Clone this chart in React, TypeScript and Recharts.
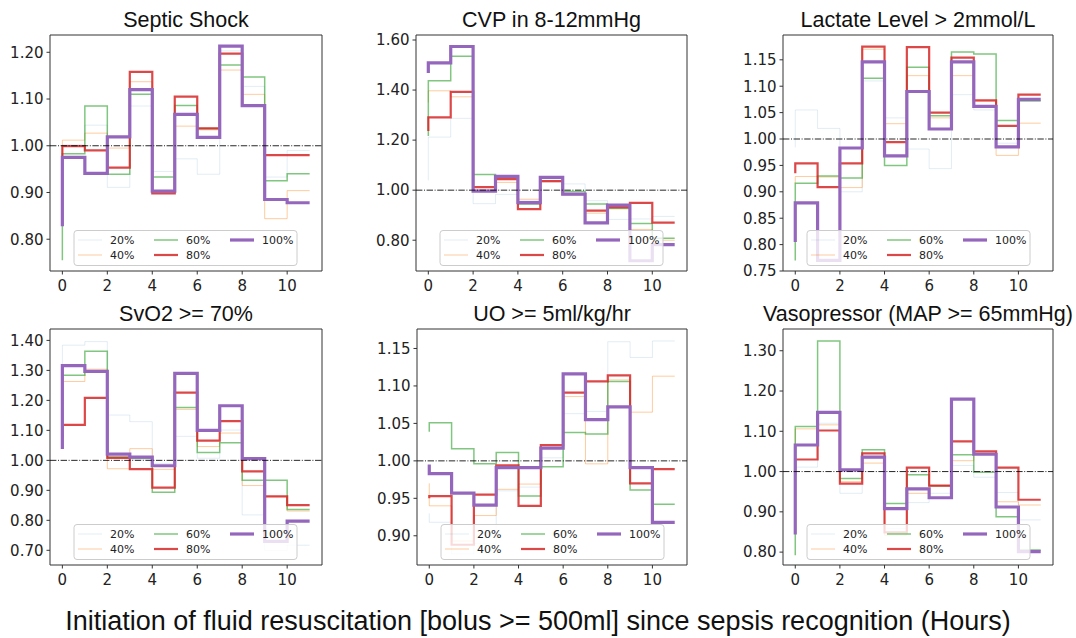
import React from "react";
import {
  LineChart,
  Line,
  XAxis,
  YAxis,
  ReferenceLine,
  ReferenceArea,
} from "recharts";

// hours since sepsis recognition (first point is the stub drawn at x=0)
const HOURS = [0, 1, 2, 3, 4, 5, 6, 7, 8, 9, 10, 11];
const X_TICKS = [0, 2, 4, 6, 8, 10];
const X_DOMAIN: [number, number] = [-0.55, 11.55];

const SERIES_NAMES = ["20%", "40%", "60%", "80%", "100%"];
const SERIES_KEYS = ["p20", "p40", "p60", "p80", "p100"];
const SERIES_COLORS = ["#1f77b4", "#ff7f0e", "#2ca02c", "#d62728", "#9467bd"];
const SERIES_WIDTHS = [1, 1, 1.5, 2.2, 3.2];
const SERIES_OPACITY = [0.13, 0.4, 0.6, 0.85, 1];

// Septic Shock
const septic20 = [0.95, 1.002, 1.044, 0.911, 1.085, 0.945, 0.972, 0.939, 1.203, 1.127, 0.933, 0.99];
const septic40 = [0.877, 1.012, 1.027, 0.995, 1.137, 0.9, 1.042, 1.034, 1.162, 1.11, 0.844, 0.904];
const septic60 = [0.755, 0.983, 1.085, 0.939, 1.11, 0.933, 1.086, 1.037, 1.173, 1.147, 0.925, 0.94];
const septic80 = [0.97, 0.999, 0.99, 0.953, 1.158, 0.898, 1.105, 1.037, 1.197, 1.086, 0.98, 0.98];
const septic100 = [0.828, 0.975, 0.941, 1.019, 1.12, 0.903, 1.067, 1.018, 1.213, 1.086, 0.885, 0.878];

// CVP in 8-12mmHg
const cvp20 = [1.039, 1.212, 1.287, 0.946, 0.983, 0.96, 1.032, 1.025, 0.958, 0.883, 0.885, 0.895];
const cvp40 = [1.35, 1.397, 1.373, 1.0, 1.031, 0.964, 1.036, 0.983, 0.908, 0.925, 0.843, 0.8];
const cvp60 = [1.216, 1.437, 1.535, 1.063, 1.055, 0.945, 1.052, 0.995, 0.945, 0.928, 0.867, 0.808];
const cvp80 = [1.236, 1.291, 1.393, 1.012, 1.044, 0.924, 1.036, 0.984, 0.918, 0.932, 0.949, 0.87];
const cvp100 = [1.468, 1.509, 1.574, 0.996, 1.055, 0.95, 1.051, 0.984, 0.869, 0.94, 0.718, 0.782];

// Lactate Level > 2mmol/L
const lactate20 = [0.984, 1.055, 1.02, 0.9, 1.11, 1.04, 0.981, 0.944, 1.084, 1.055, 0.992, 1.074];
const lactate40 = [0.915, 0.929, 0.928, 0.908, 1.17, 1.029, 1.12, 1.04, 1.12, 1.072, 0.969, 1.03];
const lactate60 = [0.77, 0.916, 0.93, 0.926, 1.115, 0.95, 1.136, 1.044, 1.165, 1.161, 1.035, 1.072];
const lactate80 = [0.935, 0.954, 0.909, 0.954, 1.175, 0.994, 1.174, 1.05, 1.154, 1.073, 1.025, 1.084];
const lactate100 = [0.805, 0.879, 0.77, 0.983, 1.146, 0.968, 1.09, 1.019, 1.146, 1.062, 0.985, 1.075];

// SvO2 >= 70%
const svo20 = [1.3, 1.384, 1.396, 1.151, 1.129, 0.99, 1.08, 1.007, 1.101, 0.818, 0.7, 0.717];
const svo40 = [1.1, 1.263, 1.304, 0.972, 1.039, 0.97, 1.17, 1.046, 1.091, 0.916, 0.879, 0.831];
const svo60 = [1.12, 1.284, 1.364, 1.011, 1.006, 0.894, 1.176, 1.026, 1.059, 0.934, 0.934, 0.836];
const svo80 = [1.073, 1.118, 1.208, 1.008, 0.971, 0.909, 1.226, 1.066, 1.131, 0.963, 0.88, 0.851];
const svo100 = [1.038, 1.316, 1.297, 1.021, 1.011, 0.982, 1.29, 1.1, 1.182, 1.006, 0.73, 0.797];

// UO >= 5ml/kg/hr
const uo20 = [0.93, 0.918, 0.876, 0.89, 0.96, 0.965, 1.004, 1.063, 1.066, 1.159, 1.138, 1.16];
const uo40 = [0.97, 0.94, 0.893, 0.927, 0.962, 0.969, 1.017, 1.086, 0.996, 1.108, 1.065, 1.113];
const uo60 = [1.039, 1.051, 1.016, 0.996, 1.011, 0.953, 0.992, 1.038, 1.036, 1.106, 0.961, 0.942];
const uo80 = [0.95, 0.953, 0.888, 0.955, 0.994, 0.94, 1.021, 1.091, 1.106, 1.114, 0.97, 0.989];
const uo100 = [0.995, 0.983, 0.957, 0.941, 0.991, 0.991, 1.017, 1.116, 1.055, 1.072, 0.991, 0.918];

// Vasopressor (MAP >= 65mmHg)
const vaso20 = [0.983, 1.011, 1.12, 0.946, 1.032, 0.859, 0.923, 0.946, 1.015, 0.986, 0.948, 0.88];
const vaso40 = [1.0, 1.106, 1.116, 0.975, 1.021, 0.842, 0.946, 0.965, 1.027, 1.046, 0.925, 0.917];
const vaso60 = [0.792, 1.112, 1.324, 0.983, 1.054, 0.921, 0.992, 0.965, 1.042, 0.998, 0.888, 0.805];
const vaso80 = [0.99, 1.03, 1.102, 0.97, 1.045, 0.849, 1.01, 0.965, 1.075, 1.05, 1.01, 0.93];
const vaso100 = [0.844, 1.066, 1.147, 1.004, 1.036, 0.908, 0.957, 0.935, 1.18, 1.043, 0.912, 0.801];

const septicTicks = [0.8, 0.9, 1.0, 1.1, 1.2];
const cvpTicks = [0.8, 1.0, 1.2, 1.4, 1.6];
const lactateTicks = [0.75, 0.8, 0.85, 0.9, 0.95, 1.0, 1.05, 1.1, 1.15];
const svoTicks = [0.7, 0.8, 0.9, 1.0, 1.1, 1.2, 1.3, 1.4];
const uoTicks = [0.9, 0.95, 1.0, 1.05, 1.1, 1.15];
const vasoTicks = [0.8, 0.9, 1.0, 1.1, 1.2, 1.3];

const X_LABEL = "Initiation of fluid resuscitation [bolus >= 500ml] since sepsis recognition (Hours)";

const PANELS = [
  { title: "Septic Shock", series: [septic20, septic40, septic60, septic80, septic100], domain: [0.732, 1.237], ticks: septicTicks, left: 50, top: 35, w: 272 },
  { title: "CVP in 8-12mmHg", series: [cvp20, cvp40, cvp60, cvp80, cvp100], domain: [0.677, 1.62], ticks: cvpTicks, left: 416, top: 35, w: 271 },
  { title: "Lactate Level > 2mmol/L", series: [lactate20, lactate40, lactate60, lactate80, lactate100], domain: [0.75, 1.197], ticks: lactateTicks, left: 783, top: 35, w: 270 },
  { title: "SvO2 >= 70%", series: [svo20, svo40, svo60, svo80, svo100], domain: [0.651, 1.438], ticks: svoTicks, left: 50, top: 329, w: 272 },
  { title: "UO >= 5ml/kg/hr", series: [uo20, uo40, uo60, uo80, uo100], domain: [0.861, 1.176], ticks: uoTicks, left: 417, top: 329, w: 270 },
  { title: "Vasopressor (MAP >= 65mmHg)", series: [vaso20, vaso40, vaso60, vaso80, vaso100], domain: [0.768, 1.354], ticks: vasoTicks, left: 783, top: 329, w: 270 },
];

const PLOT_H = 236;
const Y_AXIS_W = 50;
const TOP_PAD = 10;
const tickFont = { fontSize: 15, fill: "#222", fontFamily: "DejaVu Sans" };

function Panel({ p }: { p: (typeof PANELS)[number] }) {
  const rows = HOURS.map((h, i) => {
    const r: Record<string, number> = { h };
    SERIES_KEYS.forEach((k, s) => (r[k] = p.series[s][i]));
    return r;
  });
  return (
    <LineChart
      width={Y_AXIS_W + p.w + 10}
      height={TOP_PAD + PLOT_H + 30}
      data={rows}
      margin={{ top: TOP_PAD, right: 10, bottom: 0, left: 0 }}
      style={{ position: "absolute", left: p.left - Y_AXIS_W, top: p.top - TOP_PAD }}
    >
      <XAxis
        dataKey="h"
        type="number"
        domain={X_DOMAIN}
        allowDataOverflow
        ticks={X_TICKS}
        interval={0}
        height={30}
        axisLine={false}
        tickSize={3.5}
        tickMargin={6}
        tickLine={{ stroke: "#333" }}
        tick={tickFont}
      />
      <YAxis
        type="number"
        domain={p.domain}
        allowDataOverflow
        ticks={p.ticks}
        interval={0}
        width={Y_AXIS_W}
        axisLine={false}
        tickSize={3.5}
        tickMargin={3}
        tickLine={{ stroke: "#333" }}
        tick={tickFont}
        tickFormatter={(v: number) => v.toFixed(2)}
      />
      {SERIES_KEYS.map((k, s) => (
        <Line
          key={k}
          dataKey={k}
          type="stepBefore"
          stroke={SERIES_COLORS[s]}
          strokeOpacity={SERIES_OPACITY[s]}
          strokeWidth={SERIES_WIDTHS[s]}
          dot={false}
          activeDot={false}
          isAnimationActive={false}
        />
      ))}
      <ReferenceLine y={1} stroke="#000" strokeOpacity={0.85} strokeWidth={1} strokeDasharray="6.4 1.6 1 1.6" />
      <ReferenceArea
        x1={X_DOMAIN[0]}
        x2={X_DOMAIN[1]}
        y1={p.domain[0]}
        y2={p.domain[1]}
        fill="none"
        stroke="#333"
        strokeWidth={1}
        ifOverflow="visible"
      />
    </LineChart>
  );
}

function LegendBox({ left, bottom }: { left: number; bottom: number }) {
  const x0 = left + 24;
  const y0 = bottom - 5.5 - 35;
  const cols = [0, 76, 152];
  return (
    <g>
      <rect x={x0} y={y0} width={223} height={35} rx={3} fill="#fff" fillOpacity={0.8} stroke="#ccc" strokeWidth={1} />
      {SERIES_NAMES.map((name, s) => {
        const col = Math.floor(s / 2);
        const row = s % 2;
        const lx = x0 + 4 + cols[col];
        const ly = y0 + 9.5 + row * 15;
        return (
          <g key={name}>
            <line x1={lx} x2={lx + 24} y1={ly} y2={ly} stroke={SERIES_COLORS[s]} strokeOpacity={SERIES_OPACITY[s]} strokeWidth={SERIES_WIDTHS[s]} />
            <text x={lx + 32} y={ly + 4} fontSize={11} fontFamily="DejaVu Sans" fill="#222">
              {name}
            </text>
          </g>
        );
      })}
    </g>
  );
}

export default function App() {
  return (
    <div style={{ position: "absolute", left: 0, top: 0, width: 1076, height: 638, background: "#fff", overflow: "hidden" }}>
      {PANELS.map((p) => (
        <Panel key={p.title} p={p} />
      ))}
      <svg width={1076} height={638} style={{ position: "absolute", left: 0, top: 0, pointerEvents: "none" }}>
        {PANELS.map((p) => (
          <g key={p.title}>
            <text
              x={p.left + p.w / 2}
              y={p.top - 8}
              textAnchor="middle"
              fontSize={21.5}
              fontFamily="Liberation Sans, Arial, sans-serif"
              fill="#111"
            >
              {p.title}
            </text>
            <LegendBox left={p.left} bottom={p.top + PLOT_H} />
          </g>
        ))}
        <text x={538} y={630} textAnchor="middle" fontSize={27} fontFamily="Liberation Sans, Arial, sans-serif" fill="#111">
          {X_LABEL}
        </text>
      </svg>
    </div>
  );
}
